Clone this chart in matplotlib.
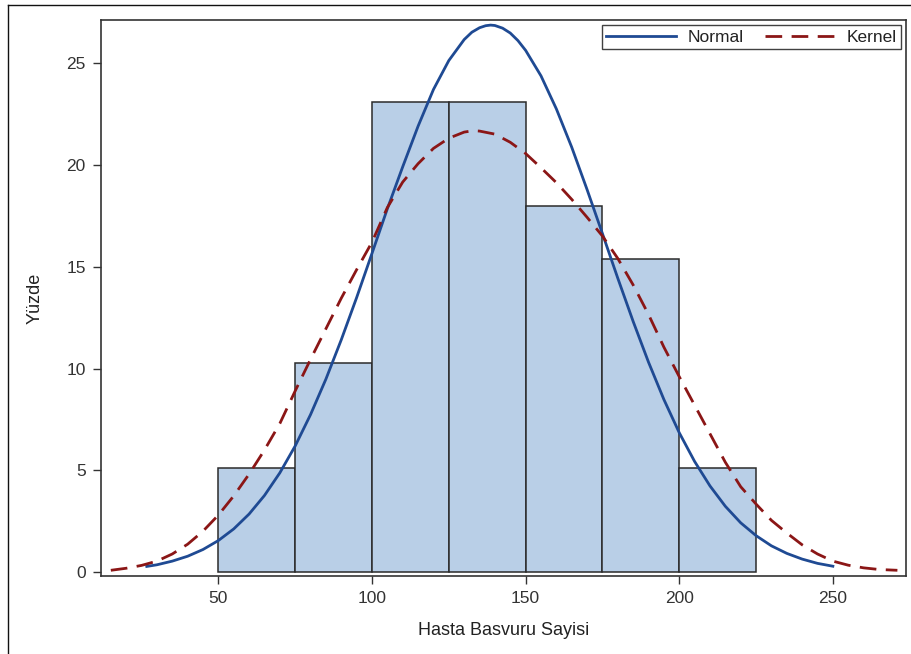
import matplotlib
matplotlib.use("Agg")
import matplotlib.pyplot as plt
from matplotlib.lines import Line2D

plt.rcParams['font.family'] = ['Liberation Sans', 'DejaVu Sans']

# Histogram (percent per bin)
bin_edges = [50, 75, 100, 125, 150, 175, 200, 225]
percents = [5.13, 10.26, 23.08, 23.08, 17.95, 15.38, 5.13]

# Normal curve
normal_x = [26.7, 30, 35, 40, 45, 50, 55, 60, 65, 70, 75, 80, 85, 90, 95, 100,
            105, 110, 115, 120, 125, 130, 132.5, 135, 137, 138.6, 140, 142.5,
            145, 147.5, 150, 155, 160,
            165, 170, 175, 180, 185, 190, 195, 200, 205, 210, 215, 220, 225,
            230, 235, 240, 245, 250]
normal_y = [0.29, 0.37, 0.55, 0.79, 1.12, 1.56, 2.13, 2.86, 3.77, 4.88, 6.20,
            7.74, 9.48, 11.41, 13.48, 15.65, 17.84, 19.90, 21.89, 23.69, 25.11,
            26.14, 26.50, 26.72, 26.82, 26.85, 26.83, 26.70, 26.46, 26.09,
            25.61, 24.36, 22.74, 20.86,
            18.78, 16.62, 14.43, 12.31, 10.31, 8.48, 6.85, 5.44, 4.24, 3.24,
            2.43, 1.80, 1.30, 0.93, 0.65, 0.44, 0.30]

# Kernel curve
kernel_x = [15, 20, 25, 30, 35, 40, 45, 50, 55, 60, 65, 70, 75, 80, 85, 90, 95,
            100, 105, 110, 115, 120, 125, 130, 133, 135, 140, 145, 150, 155,
            160, 165, 170, 175, 180, 185, 190, 195, 200, 205, 210, 215, 220,
            225, 230, 235, 240, 245, 250, 255, 260, 265, 271]
kernel_y = [0.10, 0.20, 0.34, 0.55, 0.90, 1.38, 2.02, 2.81, 3.75, 4.82, 6.00,
            7.30, 8.90, 10.45, 11.95, 13.45, 14.85, 16.2, 17.9, 19.15, 20.05,
            20.8, 21.3, 21.6, 21.67, 21.65, 21.5, 21.1, 20.55, 19.85, 19.12,
            18.3, 17.42, 16.5, 15.4, 14.1, 12.65, 11.05, 9.6, 8.2, 6.8, 5.4,
            4.2, 3.35, 2.55, 1.93, 1.35, 0.9, 0.55, 0.35, 0.22, 0.14, 0.10]

x_ticks = [50, 100, 150, 200, 250]
y_ticks = [0, 5, 10, 15, 20, 25]

W, H = 912, 654
fig = plt.figure(figsize=(W / 100, H / 100), dpi=100)
ax = fig.add_axes([101 / W, 1 - 576 / H, (906 - 101) / W, (576 - 20) / H])

lefts = bin_edges[:-1]
widths = [b - a for a, b in zip(bin_edges[:-1], bin_edges[1:])]
ax.bar(lefts, percents, width=widths, align='edge', color='#B9CFE7',
       edgecolor='#2b2b2b', linewidth=1.1, zorder=2)

ax.plot(normal_x, normal_y, color='#1F4A93', linewidth=2.0, label='Normal',
        zorder=3, solid_joinstyle='round')
ax.plot(kernel_x, kernel_y, color='#8B1616', linewidth=2.0, label='Kernel',
        linestyle=(0, (6.0, 3.4)), zorder=3)

ax.set_xlim(11.8, 273.8)
ax.set_ylim(-0.18, 27.1)
ax.set_xticks(x_ticks)
ax.set_yticks(y_ticks)
ax.tick_params(direction='out', length=6, width=1, color='#333333',
               labelsize=12.5, labelcolor='#333333', pad=5)
for s in ax.spines.values():
    s.set_color('#333333')
    s.set_linewidth(1.2)

ax.set_xlabel('Hasta Basvuru Sayisi', fontsize=13, color='#222222', labelpad=11)
ax.set_ylabel('Yüzde', fontsize=13, color='#222222', labelpad=16)

leg = ax.legend(loc='upper right', ncol=2, fontsize=12.5, frameon=True,
                fancybox=False, handlelength=4.0, columnspacing=1.2,
                handletextpad=0.7, borderpad=0.25, borderaxespad=0.3)
leg.get_frame().set_edgecolor('#111111')
leg.get_frame().set_linewidth(1.0)
for t in leg.get_texts():
    t.set_color('#222222')

# Outer page border (left and top)
fig.add_artist(Line2D([8 / W, 8 / W], [0, 1 - 4.5 / H], transform=fig.transFigure,
                      color='#111111', linewidth=1.0))
fig.add_artist(Line2D([8 / W, 1], [1 - 4.5 / H, 1 - 4.5 / H], transform=fig.transFigure,
                      color='#111111', linewidth=1.0))

fig.savefig('out.png', dpi=100)
